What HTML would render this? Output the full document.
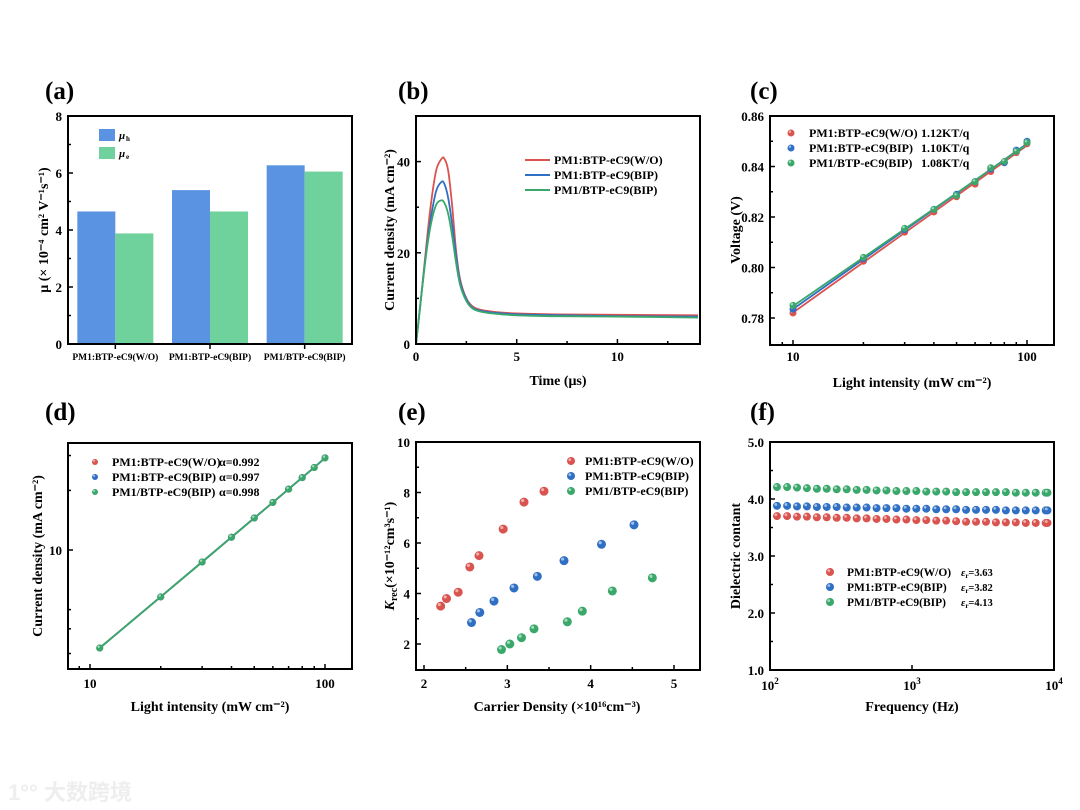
<!DOCTYPE html>
<html><head><meta charset="utf-8">
<style>
html,body{margin:0;padding:0;background:#fff;}
svg{display:block;font-family:"Liberation Serif",serif;font-weight:bold;}
</style></head>
<body>
<svg id="fig" width="1080" height="810" viewBox="0 0 1080 810">
<text x="45" y="99" font-size="25">(a)</text>
<text x="398" y="99" font-size="25">(b)</text>
<text x="750" y="99" font-size="25">(c)</text>
<text x="45" y="420" font-size="25">(d)</text>
<text x="398" y="420" font-size="25">(e)</text>
<text x="750" y="420" font-size="25">(f)</text>
<text x="8" y="800" font-size="22" fill="#eeeeee" font-family="'Liberation Sans','Noto Sans CJK SC',sans-serif">1°° 大数跨境</text>
</svg>
<script>
// ---- data (a)
const aCats = ["PM1:BTP-eC9(W/O)","PM1:BTP-eC9(BIP)","PM1/BTP-eC9(BIP)"];
const aHole = [4.65, 5.40, 6.27];
const aElec = [3.88, 4.65, 6.05];
// ---- data (b)
const bTime = [0,0.25,0.5,0.75,1.0,1.25,1.4,1.6,1.8,2.0,2.2,2.5,2.8,3.2,4,5,7,10,14];
const bRed = [0,10,21,31,38,40.5,40.7,38,30,20,14,10,8.3,7.5,7.0,6.7,6.5,6.4,6.3];
const bBlue = [0,10,20,28,33.5,35.5,35.2,32,26,19,13.5,9.8,8,7.3,6.8,6.5,6.3,6.1,6.0];
const bGreen = [0,10,19.5,26.5,30.5,31.5,31,28.5,23.5,17.5,12.8,9.4,7.8,7.1,6.6,6.3,6.1,6.0,5.8];
const bLabels = ["PM1:BTP-eC9(W/O)","PM1:BTP-eC9(BIP)","PM1/BTP-eC9(BIP)"];
// ---- data (c)
const cI = [10,20,30,40,50,60,70,80,90,100];
const cRed = [.782,.8025,.814,.822,.828,.833,.838,.8415,.8455,.849];
const cBlue = [.7835,.8035,.815,.823,.829,.834,.839,.8415,.8465,.850];
const cGreen = [.785,.804,.8155,.823,.8285,.834,.8395,.842,.846,.8495];
const cSlopes = ["1.12KT/q","1.10KT/q","1.08KT/q"];
// ---- data (d)
const dI = [11,20,30,40,50,60,70,80,90,100];
const dRed = [3.2,5.8,8.7,11.6,14.5,17.4,20.3,23.2,26.1,29.2];
const dBlue = [3.2,5.8,8.7,11.6,14.5,17.4,20.3,23.2,26.1,29.2];
const dGreen = [3.2,5.8,8.7,11.6,14.5,17.4,20.3,23.2,26.1,29.2];
const dAlpha = ["α=0.992","α=0.997","α=0.998"];
// ---- data (e)
const eRedX = [2.2,2.27,2.41,2.55,2.66,2.95,3.2,3.44];
const eRedY = [3.5,3.8,4.05,5.05,5.5,6.55,7.62,8.05];
const eBlueX = [2.57,2.67,2.84,3.08,3.36,3.68,4.13,4.52];
const eBlueY = [2.85,3.25,3.7,4.22,4.68,5.3,5.95,6.72];
const eGreenX = [2.93,3.03,3.17,3.32,3.72,3.9,4.26,4.74];
const eGreenY = [1.78,2.0,2.25,2.6,2.88,3.3,4.1,4.62];
// ---- data (f)
const fFreq = [112,132,155,182,214,251,295,347,408,479,563,661,777,913,1073,1261,1482,1741,2046,2404,2825,3320,3901,4584,5387,6330,7438,8741,9000];
const fRed = [3.70,3.70,3.69,3.69,3.68,3.68,3.67,3.67,3.66,3.66,3.65,3.65,3.64,3.64,3.63,3.63,3.62,3.62,3.61,3.60,3.60,3.60,3.59,3.59,3.59,3.58,3.58,3.58,3.58];
const fBlue = [3.88,3.88,3.87,3.87,3.86,3.86,3.86,3.85,3.85,3.85,3.84,3.84,3.84,3.83,3.83,3.83,3.82,3.82,3.82,3.81,3.81,3.81,3.81,3.80,3.80,3.80,3.80,3.80,3.80];
const fGreen = [4.21,4.21,4.20,4.19,4.18,4.18,4.17,4.17,4.16,4.16,4.15,4.15,4.14,4.14,4.14,4.13,4.13,4.13,4.12,4.12,4.12,4.12,4.12,4.12,4.11,4.11,4.11,4.11,4.11];
const fEps = ["=3.63","=3.82","=4.13"];

const NS="http://www.w3.org/2000/svg";
const svg=document.getElementById('fig');
const RED="#d9534f", BLUE="#2f6fc4", GREEN="#3aa86b";
function mk(tag,attrs,parent){const e=document.createElementNS(NS,tag);for(const k in attrs)e.setAttribute(k,attrs[k]);(parent||svg).appendChild(e);return e;}
function txt(x,y,s,size,anchor,parent){const t=mk('text',{x:x,y:y,'font-size':size,'text-anchor':anchor||'start'},parent);t.textContent=s;return t;}
function lin(a0,a1,p0,p1){return v=>p0+(v-a0)/(a1-a0)*(p1-p0);}
function logs(a0,a1,p0,p1){return v=>p0+(Math.log10(v)-Math.log10(a0))/(Math.log10(a1)-Math.log10(a0))*(p1-p0);}
function frame(L,T,R,B,name){const r=mk('rect',{x:L,y:T,width:R-L,height:B-T,fill:'none',stroke:'#000','stroke-width':2});
return r;}
function xtick(x,B,len){mk('line',{x1:x,x2:x,y1:B,y2:B-len,stroke:'#000','stroke-width':1.5});}
function ytick(y,L,len){mk('line',{x1:L,x2:L+len,y1:y,y2:y,stroke:'#000','stroke-width':1.5});}
function ytitle(x,y,s){const t=txt(0,0,s,14,'middle');t.setAttribute('transform','translate('+x+','+y+') rotate(-90)');return t;}
function xtitle(x,y,s){const t=txt(x,y,s,14,'middle');return t;}
function ball(x,y,c,r,name){
 const g=mk('g',{});
 mk('circle',{cx:x,cy:y,r:r,fill:c},g);
 mk('circle',{cx:x-r*0.3,cy:y-r*0.35,r:r*0.35,fill:'#fff','fill-opacity':0.55},g);
 return g;}
function polyline(xs,ys,sx,sy,c,name,w){let d=xs.map((v,i)=>(i?'L':'M')+sx(v).toFixed(1)+','+sy(ys[i]).toFixed(1)).join('');
 const p=mk('path',{d:d,fill:'none',stroke:c,'stroke-width':w||2});return p;}
function smooth(xs,ys,sx,sy,c,name,w){
 const P=xs.map((v,i)=>[sx(v),sy(ys[i])]);let d='M'+P[0][0].toFixed(1)+','+P[0][1].toFixed(1);
 for(let i=0;i<P.length-1;i++){const p0=P[Math.max(i-1,0)],p1=P[i],p2=P[i+1],p3=P[Math.min(i+2,P.length-1)];
  const c1=[p1[0]+(p2[0]-p0[0])/6,p1[1]+(p2[1]-p0[1])/6],c2=[p2[0]-(p3[0]-p1[0])/6,p2[1]-(p3[1]-p1[1])/6];
  d+='C'+c1.map(n=>n.toFixed(1)).join(',')+' '+c2.map(n=>n.toFixed(1)).join(',')+' '+p2[0].toFixed(1)+','+p2[1].toFixed(1);}
 const p=mk('path',{d:d,fill:'none',stroke:c,'stroke-width':w||2});return p;}

// ===== (a)
(function(){const L=68,R=352,T=116,B=344;const sy=lin(0,8,B,T);
 const gw=(R-L)/3;
 aCats.forEach((c,i)=>{const cx=L+gw*(i+0.5);const bw=38;
  const r1=mk('rect',{x:cx-bw,y:sy(aHole[i]),width:bw,height:B-sy(aHole[i]),fill:'#5b93e3'});
  
  const r2=mk('rect',{x:cx,y:sy(aElec[i]),width:bw,height:B-sy(aElec[i]),fill:'#6fd19b'});
  
  xtick(cx,B,-5);const t=txt(cx,360,c,9.5,'middle');});
 frame(L,T,R,B,'panel-a');
 for(let v=0;v<=8;v+=2){ytick(sy(v),L,5);txt(L-6,sy(v)+5,String(v),13,'end');}
 for(let v=1;v<8;v+=2)ytick(sy(v),L,3);
 ytitle(48,230,'μ (× 10⁻⁴ cm² V⁻¹s⁻¹)');
 const l1=mk('rect',{x:99,y:129,width:16,height:12,fill:'#5b93e3'});
 const l2=mk('rect',{x:99,y:147,width:16,height:12,fill:'#6fd19b'});
 txt(119,139,'μ',11).setAttribute('font-style','italic');txt(126,141,'h',7);
 txt(119,157,'μ',11).setAttribute('font-style','italic');txt(126,159,'e',7);
})();

// ===== (b)
(function(){const L=416,R=700,T=116,B=344;const sx=lin(0,14.1,L,R),sy=lin(0,50,B,T);
 const cols=[RED,BLUE,GREEN],ser=[bRed,bBlue,bGreen];
 ser.forEach((s,i)=>smooth(bTime,s,sx,sy,cols[i],'line-'+['wo','bip','bilayer'][i],1.8));
 frame(L,T,R,B,'panel-b');
 [0,5,10].forEach(v=>{xtick(sx(v),B,5);txt(sx(v),361,String(v),13,'middle');});
 [2.5,7.5,12.5].forEach(v=>xtick(sx(v),B,3));
 [0,20,40].forEach(v=>{ytick(sy(v),L,5);txt(L-6,sy(v)+5,String(v),13,'end');});
 [10,30].forEach(v=>ytick(sy(v),L,3));
 xtitle(558,385,'Time (μs)');ytitle(394,230,'Current density (mA cm⁻²)');
 bLabels.forEach((s,i)=>{const y=160+i*15;const l=mk('line',{x1:525,x2:550,y1:y,y2:y,stroke:cols[i],'stroke-width':2});txt(554,y+4,s,12);});
})();

// ===== (c)
(function(){const L=770,R=1054,T=116,B=345;const sx=logs(10,100,793,1027),sy=lin(0.78,0.86,318,116);
 const cols=[RED,BLUE,GREEN],ser=[cRed,cBlue,cGreen];
 ser.forEach((s,i)=>{const n=cI.length;let mx=0,my=0;cI.forEach((v,j)=>{mx+=Math.log10(v);my+=s[j];});mx/=n;my/=n;
  let num=0,den=0;cI.forEach((v,j)=>{const dx=Math.log10(v)-mx;num+=dx*(s[j]-my);den+=dx*dx;});const k=num/den;
  const f=v=>my+k*(Math.log10(v)-mx);polyline([10,100],[f(10),f(100)],sx,sy,cols[i],'fit-line',1.8);});
 ser.forEach((s,i)=>cI.forEach((v,j)=>ball(sx(v),sy(s[j]),cols[i],3.5,'point')));
 frame(L,T,R,B,'panel-c');
 [10,100].forEach(v=>{xtick(sx(v),B,5);txt(sx(v),361,String(v),13,'middle');});
 [8,9,20,30,40,50,60,70,80,90].forEach(v=>xtick(sx(v),B,3));
 [0.78,0.80,0.82,0.84,0.86].forEach(v=>{ytick(sy(v),L,5);txt(L-6,sy(v)+5,v.toFixed(2),13,'end');});
 [0.79,0.81,0.83,0.85].forEach(v=>ytick(sy(v),L,3));
 xtitle(912,387,'Light intensity (mW cm⁻²)');ytitle(740,230,'Voltage (V)');
 bLabels.forEach((s,i)=>{const y=133+i*15;ball(791,y,cols[i],3.5,'legend-marker');txt(809,y+4,s,12);txt(921,y+4,cSlopes[i],12);});
})();

// ===== (d)
(function(){const L=68,R=352,T=443,B=669;const sx=logs(10,100,90,325);const sy=v=>550-(Math.log10(v)-1)*198;
 const cols=[RED,BLUE,GREEN],ser=[dRed,dBlue,dGreen];
 ser.forEach((s,i)=>polyline(dI,s,sx,sy,cols[i],'fit-line',1.8));
 ser.forEach((s,i)=>dI.forEach((v,j)=>ball(sx(v),sy(s[j]),cols[i],3.5,'point')));
 frame(L,T,R,B,'panel-d');
 [10,100].forEach(v=>{xtick(sx(v),B,5);txt(sx(v),688,String(v),13,'middle');});
 [9,20,30,40,50,60,70,80,90].forEach(v=>xtick(sx(v),B,3));
 ytick(sy(10),L,5);txt(L-6,sy(10)+5,'10',13,'end');
 [3,4,5,20,30].forEach(v=>ytick(sy(v),L,3));
 xtitle(210,711,'Light intensity (mW cm⁻²)');ytitle(42,556,'Current density (mA cm⁻²)');
 bLabels.forEach((s,i)=>{const y=462+i*15;ball(95,y,cols[i],3,'legend-marker');txt(112,y+4,s,12);txt(219,y+4,dAlpha[i],12);});
})();

// ===== (e)
(function(){const L=416,R=700,T=442,B=670;const sx=lin(2,5,424,674),sy=lin(2,10,644,442);
 const cols=[RED,BLUE,GREEN];
 [[eRedX,eRedY],[eBlueX,eBlueY],[eGreenX,eGreenY]].forEach((s,i)=>s[0].forEach((v,j)=>ball(sx(v),sy(s[1][j]),cols[i],4.5,'point')));
 frame(L,T,R,B,'panel-e');
 [2,3,4,5].forEach(v=>{xtick(sx(v),B,5);txt(sx(v),688,String(v),13,'middle');});
 [2.5,3.5,4.5].forEach(v=>xtick(sx(v),B,3));
 [2,4,6,8,10].forEach(v=>{ytick(sy(v),L,5);txt(L-6,sy(v)+5,String(v),13,'end');});
 [3,5,7,9].forEach(v=>ytick(sy(v),L,3));
 xtitle(557,711,'Carrier Density (×10¹⁶cm⁻³)');
 const t=ytitle(394,556,'');t.innerHTML='<tspan font-style="italic">K</tspan><tspan font-size="10" dy="3">rec</tspan><tspan dy="-3">(×10⁻¹²cm³s⁻¹)</tspan>';
 bLabels.forEach((s,i)=>{const y=461+i*15;ball(571,y,cols[i],4,'legend-marker');txt(585,y+4,s,12);});
})();

// ===== (f)
(function(){const L=770,R=1054,T=442,B=670;const sx=logs(100,10000,L,R),sy=lin(1,5,B,T);
 const cols=[RED,BLUE,GREEN],ser=[fRed,fBlue,fGreen];
 ser.forEach((s,i)=>fFreq.forEach((v,j)=>ball(sx(v),sy(s[j]),cols[i],4,'point')));
 frame(L,T,R,B,'panel-f');
 [[100,'2'],[1000,'3'],[10000,'4']].forEach(p=>{xtick(sx(p[0]),B,5);const t=txt(sx(p[0]),690,'10',13,'middle');const e=mk('tspan',{'font-size':9,dy:-6});e.textContent=p[1];t.appendChild(e);});
 [1,2,3,4,5].forEach(v=>{ytick(sy(v),L,5);txt(L-6,sy(v)+5,v.toFixed(1),13,'end');});
 [1.5,2.5,3.5,4.5].forEach(v=>ytick(sy(v),L,3));
 xtitle(912,711,'Frequency (Hz)');ytitle(740,556,'Dielectric contant');
 bLabels.forEach((s,i)=>{const y=572+i*15;ball(830,y,cols[i],4,'legend-marker');txt(847,y+4,s,11.5);
  const t=txt(961,y+4,'',10.5);t.innerHTML='<tspan font-style="italic">ε</tspan><tspan font-size="7" dy="2">r</tspan><tspan dy="-2">'+fEps[i]+'</tspan>';});
})();
</script>
</body></html>
